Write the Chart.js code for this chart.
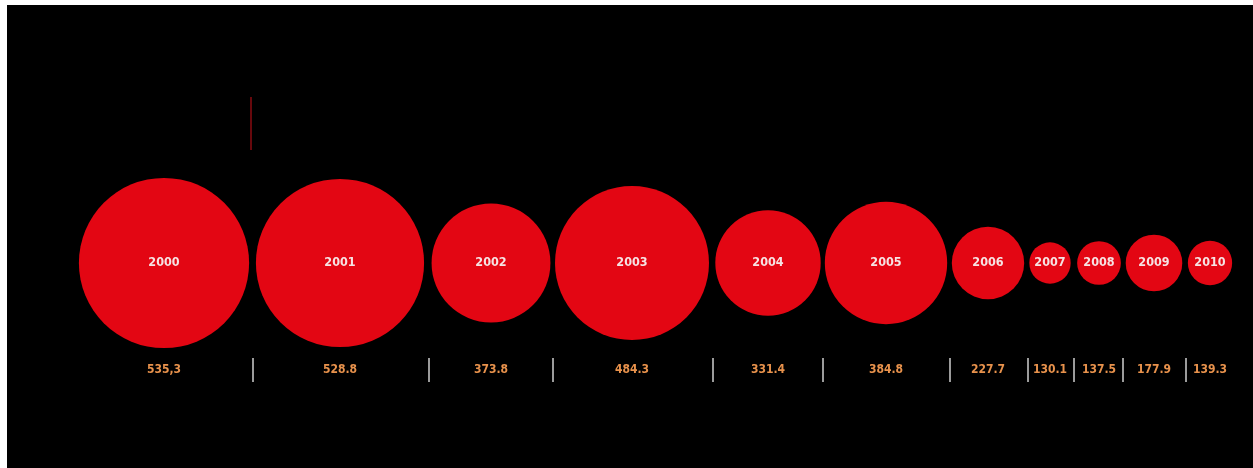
<!DOCTYPE html>
<html>
<head>
<meta charset="utf-8">
<script src="https://cdn.jsdelivr.net/npm/chart.js@4/dist/chart.umd.min.js"></script>
<style>
  html, body { margin: 0; padding: 0; background: #fff; }
  #caja { position: absolute; left: 7px; top: 5px; width: 1246px; height: 463px; background: #000; }
</style>
</head>
<body>
<div id="caja"><canvas id="myChart"></canvas></div>
<script>
// DATOS
const anios = ["2000", "2001", "2002", "2003", "2004", "2005", "2006", "2007", "2008", "2009", "2010"]
const valores = [535.3, 528.8, 373.8, 484.3, 331.4, 384.8, 227.7, 130.1, 137.5, 177.9, 139.3]
const etiquetas = ["535,3", "528.8", "373.8", "484.3", "331.4", "384.8", "227.7", "130.1", "137.5", "177.9", "139.3"]
const posicionX = [164, 340, 491, 632, 768, 886, 988, 1050, 1099, 1154, 1210] // centro de cada circulo (eje x)
const separadores = [253, 429, 553, 713, 823, 950, 1028, 1074, 1123, 1186]

const escalaRadio = 0.159 // radio en px por unidad de valor
const filaCirculos = 263
const filaValores = 370

const miGraf = document.querySelector("#myChart")

const datos = valores.map((v, i) => {
    return { x: posicionX[i], y: filaCirculos, r: v * escalaRadio }
})

// textos, separadores y linea roja
const textos = {
    id: "textos",
    afterDatasetsDraw(chart) {
        const ctx = chart.ctx
        const x = chart.scales.x
        const y = chart.scales.y
        ctx.save()

        // linea roja vertical arriba
        ctx.strokeStyle = "#8a0b10"
        ctx.lineWidth = 1.5
        ctx.beginPath()
        ctx.moveTo(x.getPixelForValue(251), y.getPixelForValue(97))
        ctx.lineTo(x.getPixelForValue(251), y.getPixelForValue(150))
        ctx.stroke()

        ctx.textAlign = "center"
        ctx.textBaseline = "middle"
        ctx.font = "bold 12.5px 'DejaVu Sans Condensed', 'DejaVu Sans', sans-serif"
        ctx.fillStyle = "#f6e3e3"
        anios.forEach((a, i) => {
            ctx.fillText(a, x.getPixelForValue(posicionX[i]), y.getPixelForValue(filaCirculos))
        })

        ctx.fillStyle = "#e8924c"
        ctx.font = "bold 12px 'DejaVu Sans Condensed', 'DejaVu Sans', sans-serif"
        etiquetas.forEach((t, i) => {
            ctx.fillText(t, x.getPixelForValue(posicionX[i]), y.getPixelForValue(filaValores))
        })

        ctx.strokeStyle = "#cfcfcf"
        ctx.lineWidth = 1.5
        separadores.forEach((s) => {
            ctx.beginPath()
            ctx.moveTo(x.getPixelForValue(s), y.getPixelForValue(358))
            ctx.lineTo(x.getPixelForValue(s), y.getPixelForValue(382))
            ctx.stroke()
        })
        ctx.restore()
    }
}

const config = {
    type: "bubble",
    data: {
        datasets: [
            {
                label: "valores",
                data: datos,
                backgroundColor: "#e30613",
                borderWidth: 0,
                hoverRadius: 0,
                clip: false
            }
        ]
    },
    options: {
        responsive: false,
        animation: false,
        events: [],
        layout: { padding: 0, autoPadding: false },
        plugins: {
            legend: { display: false },
            tooltip: { enabled: false }
        },
        scales: {
            x: { type: "linear", min: 7, max: 1253, display: false },
            y: { type: "linear", min: 5, max: 468, reverse: true, display: false }
        }
    },
    plugins: [textos]
}

miGraf.width = 1246
miGraf.height = 463
new Chart(miGraf, config)
</script>
</body>
</html>
